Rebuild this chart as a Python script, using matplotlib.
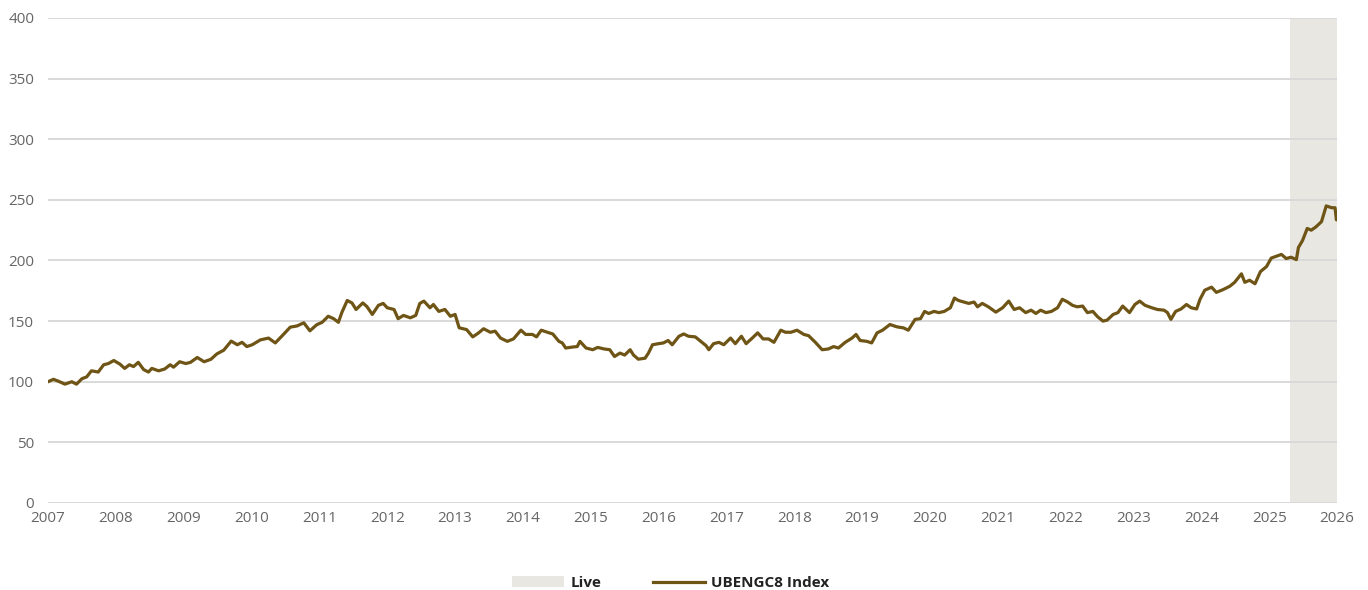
import matplotlib.pyplot as plt
from matplotlib.patches import Patch
from matplotlib.lines import Line2D

plt.rcParams['font.family'] = ['Open Sans', 'DejaVu Sans']

# index level, x in decimal years
years = [
    2007.00, 2007.08, 2007.15, 2007.25, 2007.35, 2007.42, 2007.50, 2007.57, 2007.64, 2007.74,
    2007.82, 2007.89, 2007.97, 2008.06, 2008.13, 2008.20, 2008.26, 2008.33, 2008.41, 2008.48,
    2008.53, 2008.63, 2008.72, 2008.80, 2008.85, 2008.94, 2009.03, 2009.10, 2009.20, 2009.30,
    2009.40, 2009.49, 2009.59, 2009.70, 2009.79, 2009.86, 2009.93, 2010.01, 2010.13, 2010.25,
    2010.35, 2010.47, 2010.57, 2010.67, 2010.77, 2010.86, 2010.96, 2011.04, 2011.13, 2011.21,
    2011.28, 2011.33, 2011.41, 2011.48, 2011.54, 2011.64, 2011.70, 2011.78, 2011.87, 2011.94,
    2012.00, 2012.10, 2012.16, 2012.24, 2012.34, 2012.42, 2012.48, 2012.54, 2012.63, 2012.68,
    2012.76, 2012.85, 2012.93, 2013.00, 2013.06, 2013.17, 2013.26, 2013.34, 2013.42, 2013.52,
    2013.59, 2013.67, 2013.77, 2013.86, 2013.97, 2014.04, 2014.14, 2014.20, 2014.27, 2014.36,
    2014.44, 2014.53, 2014.58, 2014.63, 2014.73, 2014.80, 2014.84, 2014.93, 2015.03, 2015.10,
    2015.20, 2015.28, 2015.35, 2015.43, 2015.50, 2015.58, 2015.63, 2015.70, 2015.80, 2015.85,
    2015.91, 2016.00, 2016.07, 2016.14, 2016.20, 2016.30, 2016.37, 2016.44, 2016.54, 2016.62,
    2016.70, 2016.74, 2016.81, 2016.89, 2016.96, 2017.06, 2017.13, 2017.22, 2017.29, 2017.38,
    2017.46, 2017.54, 2017.62, 2017.70, 2017.80, 2017.87, 2017.95, 2018.04, 2018.14, 2018.21,
    2018.31, 2018.41, 2018.50, 2018.58, 2018.65, 2018.75, 2018.85, 2018.91, 2018.97, 2019.07,
    2019.14, 2019.22, 2019.30, 2019.41, 2019.51, 2019.61, 2019.68, 2019.78, 2019.86, 2019.92,
    2019.98, 2020.06, 2020.13, 2020.21, 2020.30, 2020.36, 2020.42, 2020.50, 2020.57, 2020.65,
    2020.70, 2020.77, 2020.86, 2020.97, 2021.07, 2021.16, 2021.24, 2021.32, 2021.41, 2021.49,
    2021.56, 2021.63, 2021.71, 2021.79, 2021.88, 2021.95, 2022.03, 2022.10, 2022.17, 2022.25,
    2022.32, 2022.40, 2022.47, 2022.55, 2022.61, 2022.70, 2022.77, 2022.84, 2022.94, 2023.02,
    2023.09, 2023.17, 2023.27, 2023.35, 2023.45, 2023.50, 2023.55, 2023.62, 2023.70, 2023.78,
    2023.85, 2023.93, 2023.98, 2024.05, 2024.15, 2024.22, 2024.32, 2024.42, 2024.49, 2024.59,
    2024.64, 2024.71, 2024.79, 2024.87, 2024.96, 2025.03, 2025.10, 2025.18, 2025.25, 2025.32,
    2025.40, 2025.43, 2025.49, 2025.56, 2025.62, 2025.69, 2025.77, 2025.84, 2025.92, 2025.97,
    2025.99, 2026.00,
]
index_values = [
    100, 102, 100.5, 98, 100, 98, 102.5, 104, 109, 108,
    114, 115, 117.5, 114.5, 111, 114, 112.5, 116, 110, 108,
    111, 109, 110.5, 114, 112, 116.5, 115, 116, 120, 116.5,
    118.5, 123, 126, 133.5, 130.5, 132.5, 129, 130.5, 134.5, 136,
    132, 139, 145, 146, 148.6, 142, 147, 149, 154, 152,
    149, 157, 167, 165, 159.6, 165, 162, 155.5, 163, 164.6,
    161, 159.6, 152, 154.7, 152.7, 154.7, 164.6, 166.5, 161, 163.7,
    158, 159.6, 154, 155.5, 144.5, 143, 137, 140, 143.7, 140.8,
    141.7, 136, 133.3, 135.3, 142.5, 139, 139, 137, 142.5, 140.8,
    139.4, 133.3, 132, 127.8, 128.6, 129, 133.3, 127.8, 126.4, 128.3,
    127, 126.4, 120.8, 123.6, 122, 126.4, 122, 118.6, 119.4, 123.6,
    130.5, 131.4, 132, 134, 130.5, 137.5, 139.4, 137.5, 137, 133.3,
    129.7, 126.4, 131.4, 132.5, 130.5, 136, 131.4, 137.5, 131.4, 136,
    140.3, 135.3, 135.3, 132.5, 142.5, 140.8, 140.8, 142.5, 139, 138,
    132.5, 126.4, 127, 129, 127.8, 132.5, 136, 139, 134, 133.3,
    132, 140.3, 142.5, 147.2, 145.3, 144.4, 142.5, 151.4, 152, 158,
    156.3, 158, 157, 158, 161, 169, 167, 165.7, 164.6, 165.7,
    161.8, 164.6, 161.8, 157.4, 161, 166.5, 159.6, 161, 157, 159,
    156.3, 159, 157, 158, 161, 168, 165.7, 163, 161.8, 162.4,
    157, 158, 153.6, 150, 150.8, 155.5, 157, 162.4, 157, 163.7,
    166.5, 163, 161, 159.6, 159, 157, 151.4, 158, 160, 163.7,
    161, 160, 168, 175.5, 178, 173.7, 176, 178.8, 182, 189,
    182, 183.7, 180.8, 190.8, 195, 202, 203.4, 205, 201.6, 202.7,
    200.7, 210.7, 216.4, 226.4, 225, 227.8, 232, 245, 243.5, 243.5,
    233.5, 235,
]

live_start = 2025.30
live_end = 2026.0
x_ticks = list(range(2007, 2027))
y_ticks = [0, 50, 100, 150, 200, 250, 300, 350, 400]

line_color = '#6e5415'
band_color = '#e8e7e2'
text_color = '#666666'

fig = plt.figure(figsize=(13.68, 5.90), dpi=100)
ax = fig.add_axes([0.0351, 0.1475, 0.9423, 0.822])

ax.axvspan(live_start, live_end, color=band_color, lw=0, zorder=0)
ax.plot(years, index_values, color=line_color, lw=2.3, zorder=3)

ax.set_xlim(2007, 2026)
ax.set_ylim(0, 400)
ax.set_xticks(x_ticks)
ax.set_xticklabels([str(y) for y in x_ticks])
ax.set_yticks(y_ticks)
ax.yaxis.grid(True, color='#d9d9d9', lw=1.4, zorder=1)
ax.set_axisbelow(True)
for s in ax.spines.values():
    s.set_visible(False)
ax.tick_params(axis='both', length=0, labelsize=11, colors=text_color)
ax.tick_params(axis='y', pad=10)
ax.tick_params(axis='x', pad=6)

handles = [
    Patch(facecolor=band_color, edgecolor='none', label='Live'),
    Line2D([0], [0], color=line_color, lw=2.3, label='UBENGC8 Index'),
]
leg = fig.legend(handles=handles, loc='center', bbox_to_anchor=(0.4905, 0.012),
                 ncol=2, frameon=False, handlelength=3.4, handletextpad=0.4,
                 columnspacing=3.4, prop={'size': 11, 'weight': 'bold'})
for t in leg.get_texts():
    t.set_color('#222222')

fig.savefig('out.png', dpi=100)
